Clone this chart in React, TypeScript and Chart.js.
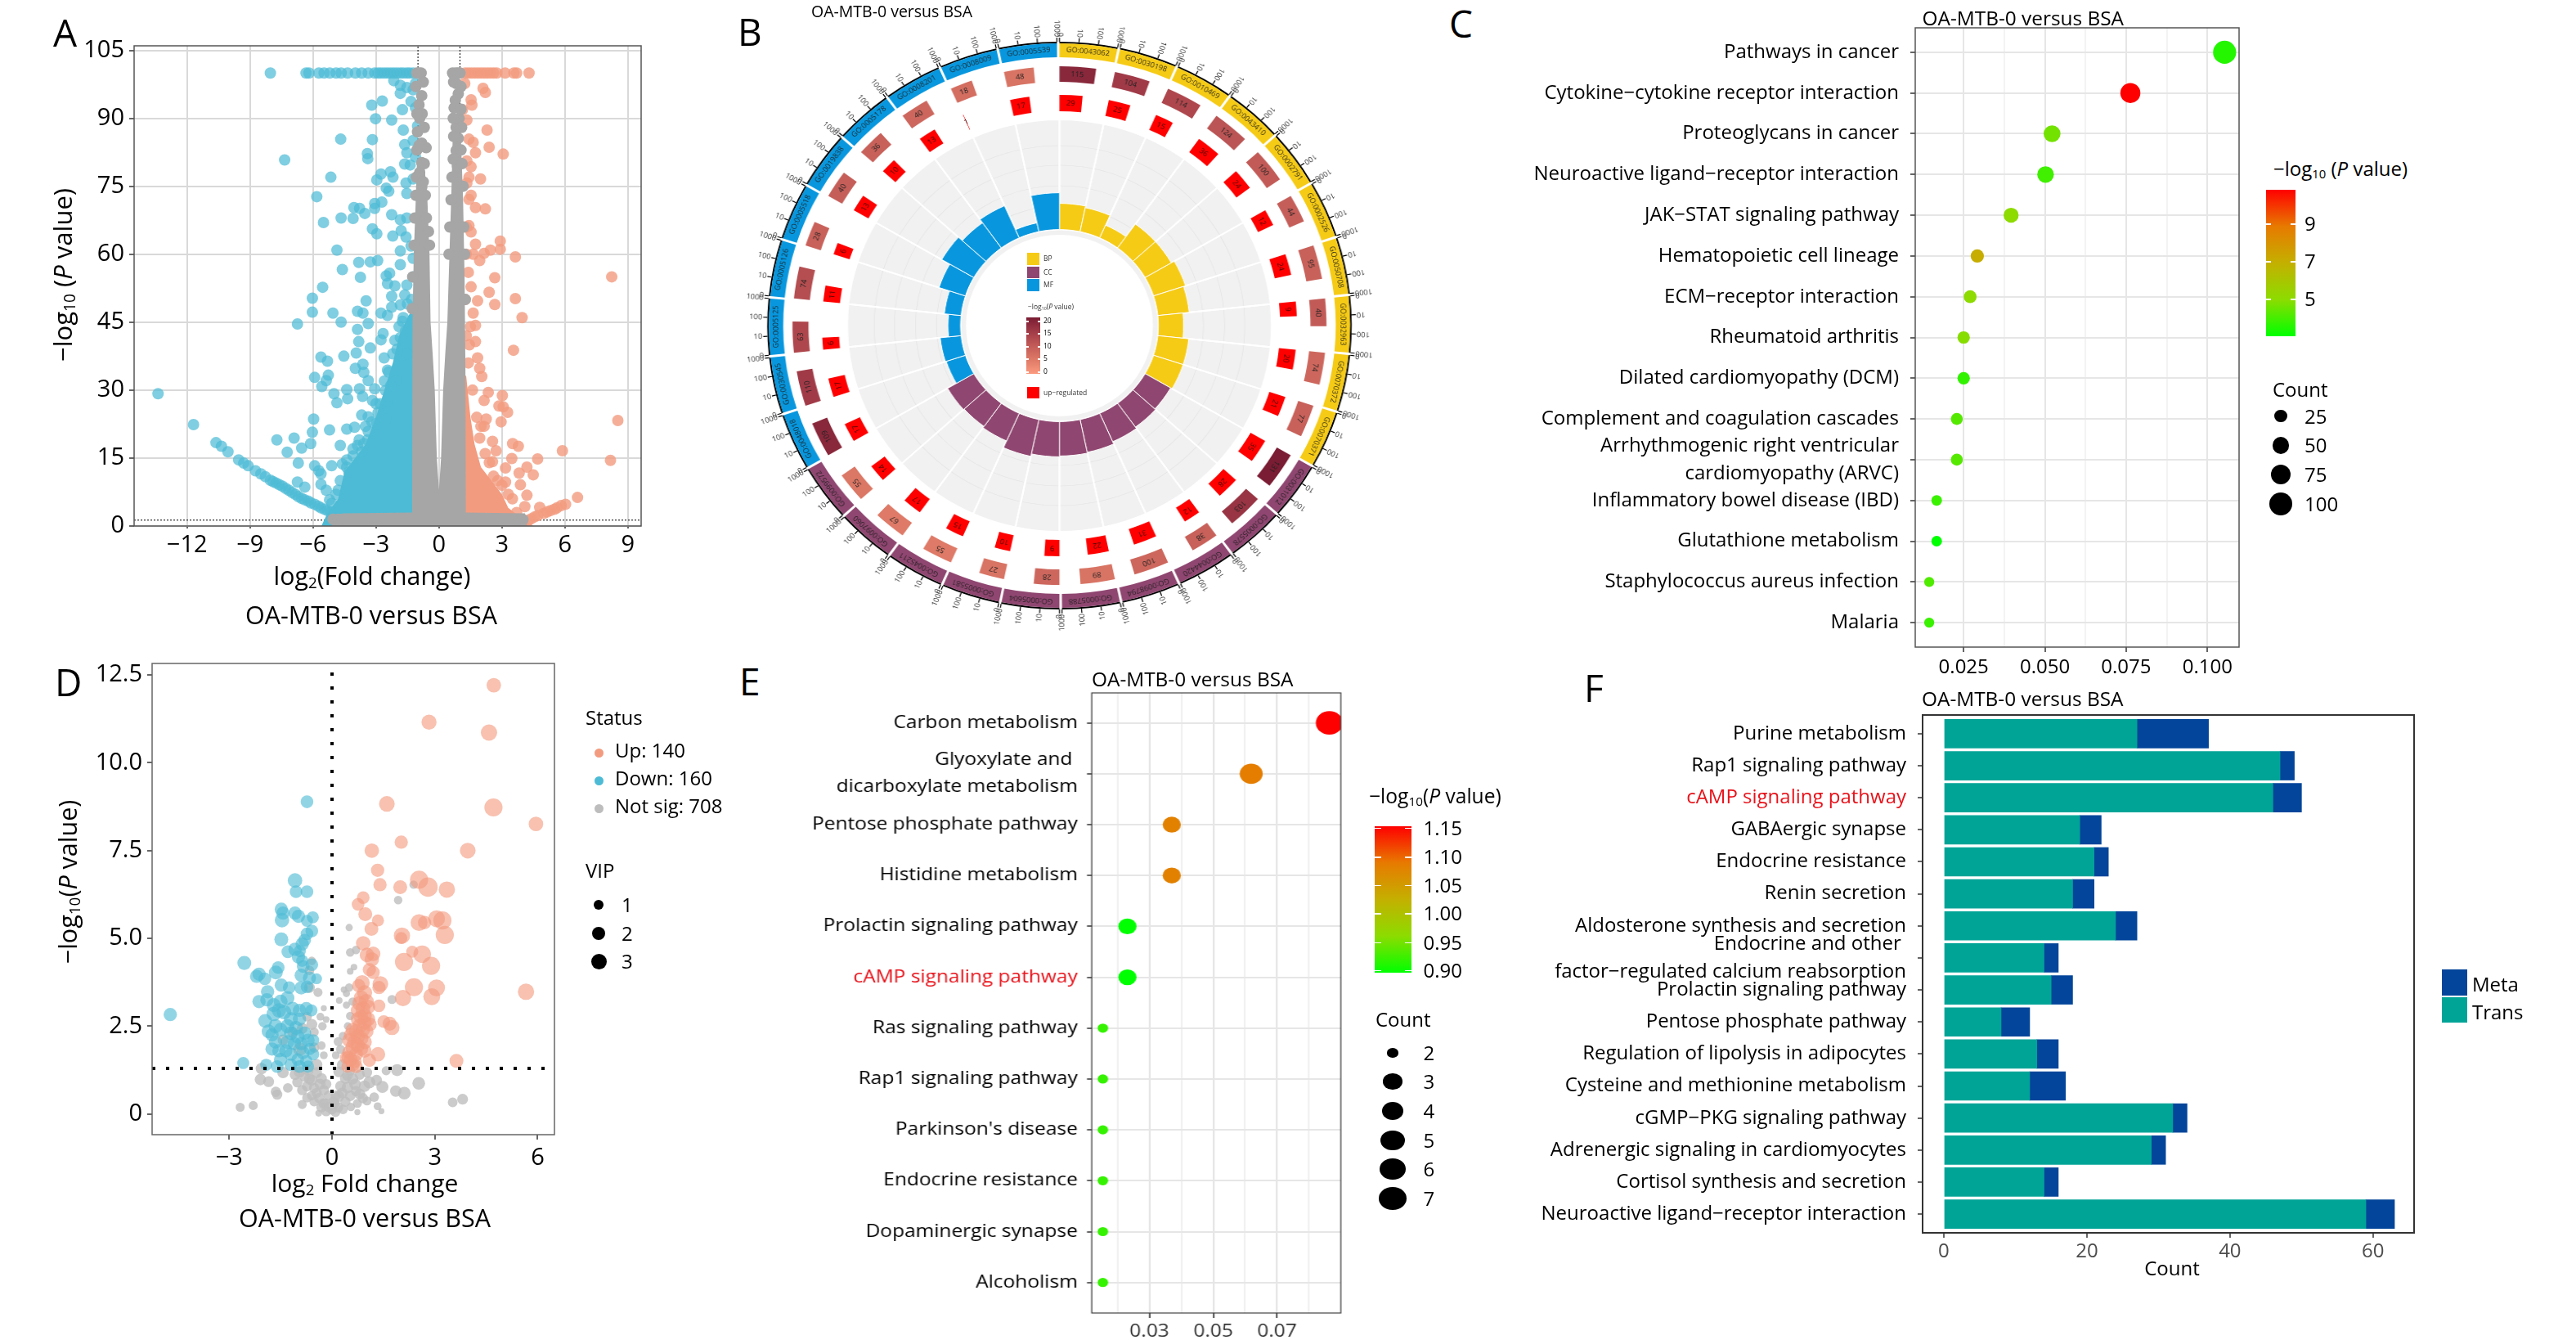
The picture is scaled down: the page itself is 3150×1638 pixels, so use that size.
import React, { useEffect, useRef } from 'react';
import { Chart, registerables } from 'chart.js';
Chart.register(...registerables);

const FONT = '"Open Sans", sans-serif';
Chart.defaults.font.family = FONT;

const pairs = (a: number[]) => { const o: any[] = []; for (let i = 0; i < a.length; i += 2) o.push({ x: a[i], y: a[i + 1] }); return o; };
const triples = (a: number[]) => { const o: any[] = []; for (let i = 0; i < a.length; i += 3) o.push({ x: a[i], y: a[i + 1], r: a[i + 2] * 3.7 }); return o; };

/* ---------- Panel A ---------- */
const aXTicks = [-12, -9, -6, -3, 0, 3, 6, 9];
const aYTicks = [0, 15, 30, 45, 60, 75, 90, 105];
const aPThreshold = 1.3;
const aFcThreshold = 1;
const aBlue = [-8.03,100,-6.33,100,-6.19,100,-5.72,100,-5.47,100,-5.2,100,-4.9,100,-4.66,100,-4.35,100,-3.98,100,-3.68,100,-3.37,100,-3.06,100,-2.9,100,-2.76,100,-2.6,100,-2.45,100,-2.3,100,-2.15,100,-2,100,-1.84,100,-1.7,100,-1.53,100,-1.4,100,-1.23,100,
-1.12,97.7,-1.84,97.3,-2.15,98.3,-1.53,96.8,-1.84,95.5,-1.23,96.3,-2.7,93.8,-3.2,92.9,-1.33,93.7,-1.74,91.9,-3.02,89.9,-2.25,89.6,-1.12,92.3,-1.7,87.4,-1.02,88.3,-3.17,85.3,-4.68,85.4,-1.63,84.2,-1.23,85.1,-1.53,82.4,-1.12,81.5,-3.41,82.2,-3.39,81.1,-7.35,80.8,-1.63,79.9,-1.37,79.7,-5.15,77,-2.76,77.7,-2.31,78.2,-2.96,76.4,-2.19,77,-1.57,75.7,-1.23,76.6,-2.51,74.6,-2.39,73.9,-5.82,72.7,-1.53,73.4,-3.06,71.2,-2.72,71.5,-4.05,70.3,-3.78,70.1,-3.06,70.1,-3.53,69,-4.09,67.9,-4.66,68,-2.25,68.7,-1.84,67.6,-1.53,68,-5.5,67,-3.17,65.6,-2.96,64.5,-1.8,65.2,-2.2,64,-1.57,63.8,-4.86,60.9,-1.84,60.7,-1.33,61.8,-3.82,58.2,-3.27,58.3,-2.92,58.6,-1.84,57.7,-1.23,59.1,-4.6,56.6,-2.51,55.2,-2.35,55.8,-1.23,55,-3.74,54.9,-2.45,53.5,-2.1,53,-5.54,52.7,-1.53,53.2,-6.03,50.3,-3.47,49.7,-2.25,50.7,-1.63,51,-6.03,47.2,-5.05,47,-3.88,47.4,-3.62,47,-2.25,48.3,-2.76,47,-1.84,48.8,-6.74,44.6,-4.66,45,-3.37,44.7,-3.88,43.4,-2.45,46.5,-2.66,42.5,-1.74,45.2,-1.33,44.3,-3.82,40.7,-3.27,39.3,-2.76,41.1,-1.84,41.6,-3.94,38.2,-4.53,37.5,-5.62,37.3,-5.31,36.4,-2.61,37.1,-3.98,34.8,-3.62,35.7,-3.58,33.9,-5.92,32.8,-5.27,33.3,-5.37,32.1,-5.58,30.8,-3.37,32.1,-2.45,34.4,-4.39,30.1,-5,29.2,-3.78,30.3,-3.06,30.3,-4.86,27.2,-4.35,28.1,-3.64,28.6,-3.17,27.7,-3.68,24.5,-3.37,24.1,-5.97,23.6,-6.03,20.7,-5.21,21.2,-4.39,21.4,-4.02,21.8,
-13.38,29.2,-11.69,22.4,-10.62,18.4,-10.36,17.6,-10.05,16.4,-9.54,14.6,-9.3,13.9,-9.09,13.3,-8.74,12.2,-8.48,11.5,-8.27,10.9,-8.03,10.1,-7.9,9.8,-7.76,9.5,-7.6,9.1,-7.46,8.8,-7.3,8.3,-7.15,7.9,-7,7.4,-6.84,7,-6.7,6.5,-6.54,6.1,-6.4,5.8,-6.23,5.5,-6.1,5.1,-5.92,4.8,-5.75,4.4,-5.62,4,-5.45,3.7,-5.31,3.4,-5.15,3.1,-5,2.8,
-7.72,19,-6.9,19.4,-7.23,16.3,-6.54,17.2,-6.11,18.2,-6.7,13.9,-5.92,13.3,-5.72,12.2,-5.62,11.5,-4.7,17.8,-5.11,13.3,-6.74,9.7,-6.39,8.6,-5.62,9.2,-5.37,7.9,-4.8,7.9,-5.21,5.8,-4.09,15.5,-4.39,14.6,-4.6,13.7,-4.29,11.9,-3.58,18.2,-3.88,17.8,-3.68,16.4,-3.37,20.9,-2.96,22.7,-2.55,23.6,-2.45,26.3,-1.94,27.2,-2.55,29.9,-2.04,32.1,-1.74,35.3,-1.53,38,
-4.7,10,-4.4,13,-4.1,17,-3.8,19,-3.5,22,-3.2,23,-3,27,-2.8,27,-2.6,32,-2.4,34,-2.2,38,-2.1,41,-1.9,44,-1.7,46,-1.5,49,-1.3,50,-4.9,7,-5.1,5,-3.4,19,-2.9,25,-2.3,31,-2,39,-1.6,43];
const aOrange = [1.25,100,1.4,100,1.55,100,1.7,100,1.85,100,2,100,2.15,100,2.3,100,2.45,100,2.6,100,2.75,100,3.15,100,3.57,100,3.7,100,4.29,100,
1.23,97.7,2.1,96.6,2.21,95.7,1.53,94.1,1.57,92.9,1.12,91.9,1.33,89.6,2.29,87.4,1.43,85.4,1.63,84.7,2.39,83.6,1.74,82.4,3.06,82.1,1.33,80.6,1.53,79.3,1.98,76.6,1.43,77,1.33,75.7,1.53,73,1.43,72.1,1.74,70.3,2.21,70,1.43,66.3,1.53,64.9,2.92,62.9,1.74,62.2,1.63,60,2.92,61.1,2.45,60.9,2.15,60.2,1.94,58.6,3.64,59.4,2.66,54.8,8.23,55,1.53,52.8,2.39,51.6,3.64,50.2,2.66,48.9,1.84,49.7,1.63,47,3.96,46,1.74,44.3,1.74,40.7,3.55,38.8,1.84,37.1,1.94,34.8,2.04,33,2.35,29.5,3.02,28.8,2.15,27.7,2.86,26.5,3.06,26.3,3.27,25.1,2.25,23.6,2.96,23,8.52,23.3,2.15,22,1.94,19.4,2.55,18.7,3.51,18.2,3.78,17.6,2.72,16.6,5.88,16.6,3.47,14.9,4.7,14.8,8.17,14.5,2.55,14.2,3.17,12.8,4.19,13,4.49,11.3,3.82,11.7,3.88,9.1,3.17,9.7,4.19,6.8,6.6,6.3,4.09,4.3,4.8,4.1,6.03,4.8,5.82,4.5,5.62,4,5.31,3.4,5,2.8,4.7,2.3,4.39,1.6,
1.4,36,1.6,30,1.8,24,2,22,2.2,16,2.4,14,2.6,11,2.8,10,3,9,3.3,7,3.5,6,3.7,3,1.3,42,1.5,44,1.4,56,1.3,60,1.3,66,1.25,50,1.45,40,5.5,3.7,5.15,3.1,4.55,2,4.25,1.2];
const aGray = [-1.05,100,-0.95,100,-0.85,100,0.65,100,0.8,100,0.9,100,1,100,
-0.82,95,-0.92,90,-1.02,87,-0.82,84.5,-0.61,83.5,-0.82,80.2,-0.92,78,-0.82,74.8,0.82,97.7,0.92,95.4,0.72,92.3,0.96,90,0.82,88,0.92,85.6,0.82,82.9,0.88,79.5,-5.05,1.5,-4.8,1.5,-4.6,1.5,4,1.4,3.8,1.5,
-1.1,97,-0.75,98,-0.95,93,-0.8,91,-1.05,91,-0.7,88,-0.95,84,-1.05,83,-0.7,80,-1.08,77,-0.75,76,-1.1,73,-0.65,73,-1.15,68,-0.6,68,-0.5,65,-1.18,62,-0.45,62,-1.25,55,-1.27,48,
0.7,98,1.05,97,0.78,94,1.05,92,0.68,90,1.08,88,0.7,86,1.05,83,0.68,81,1.1,80,0.62,77,1.15,75,0.58,72,1.18,66,0.52,66,1.22,60,0.48,60,1.25,50];
const aBlueMass = [-5.6,0,-5.3,3,-4.8,6,-4.5,12,-4,15,-3.5,18,-3,24,-2.6,30,-2.2,36,-1.9,42,-1.5,46,-1,50,-1,0];
const aOrangeMass = [1,0,1,35,1.3,33,1.5,24,1.7,18,2,13,2.5,10,3,7,3.3,4,4,1.5,4.5,0];
const aGrayMass = [-5.1,0,-5,2.5,-4.5,2.8,-1.28,3,-1.26,45,-1.2,60,-1.12,70,-1.05,80,-0.7,80,-0.55,72,-0.45,60,-0.4,45,-0.3,38,-0.2,30,-0.1,15,0,8,0.1,15,0.2,30,0.3,38,0.4,45,0.5,60,0.6,75,0.65,85,1.05,85,1.15,72,1.22,55,1.26,35,1.28,3,4.1,2.8,4.2,0];

/* ---------- Panel B ---------- */
const goIds = ['GO:0043062','GO:0030198','GO:0010469','GO:0043410','GO:0002791','GO:0002526','GO:0050708','GO:0032963','GO:0070372','GO:0070371','GO:0031012','GO:0005578','GO:0044420','GO:0098794','GO:0005788','GO:0005604','GO:0005581','GO:0045211','GO:0097060','GO:0099572','GO:0048018','GO:0030545','GO:0005125','GO:0005126','GO:0005518','GO:0019838','GO:0005178','GO:0008201','GO:0008009','GO:0005539'];
const goGroupColors = ['#f6cb16', '#8f4670', '#0897de'];
const goCounts = [115,104,114,124,100,44,95,40,74,77,131,103,38,100,89,28,27,55,67,55,109,110,63,74,28,40,36,40,18,48];
const goLogP = [18,15,13,11,10,9.5,9,10,8,9,20,16,9,8,6,8,6,5,5,5.5,18,15,13,12,9,9.5,9,8,7,6];
const goUp = [29,25,15,36,24,12,24,9,20,21,35,28,12,31,22,9,10,15,17,14,17,17,6,11,6,13,10,13,1,17];
const goBars = [1.28,1.2,0.68,1.44,1.44,1.6,1.5,1.2,1.48,1.48,1.4,1.44,1.52,1.64,1.68,1.72,1.84,1.48,1.4,1.44,0.96,1,0.6,0.8,1.32,1.76,1.52,1.72,0.44,1.8];
const goAxisLabels = ['0', '10', '100', '1000'];
const goGridRings = [146, 171, 196, 220];

/* ---------- Panel C ---------- */
const cTerms: any[] = ['Pathways in cancer','Cytokine−cytokine receptor interaction','Proteoglycans in cancer','Neuroactive ligand−receptor interaction','JAK−STAT signaling pathway','Hematopoietic cell lineage','ECM−receptor interaction','Rheumatoid arthritis','Dilated cardiomyopathy (DCM)','Complement and coagulation cascades',['Arrhythmogenic right ventricular','cardiomyopathy (ARVC)'],'Inflammatory bowel disease (IBD)','Glutathione metabolism','Staphylococcus aureus infection','Malaria'];
const cRatio = [0.1053,0.0763,0.0522,0.0502,0.0396,0.0292,0.027,0.025,0.025,0.0229,0.0229,0.0167,0.0167,0.0144,0.0144];
const cCount = [102,74,50,48,38,28,26,24,24,22,22,16,16,14,14];
const cLogP = [3.5,10.8,4.6,3.9,5,7,5,4.9,3.7,4.2,4.2,3.8,3,4.1,3.8];
const cXTicks = [0.025,0.0375,0.05,0.0625,0.075,0.0875,0.1];
const cXLabeled = [0.025,0.05,0.075,0.1];

/* ---------- Panel D ---------- */
const dXTicks = [-3, 0, 3, 6];
const dYTicks = [0, 2.5, 5, 7.5, 10, 12.5];
const dUp = [4.72,12.21,2.4,2.83,11.16,2.5,4.58,10.86,2.7,1.6,8.83,2.6,4.71,8.73,3,5.95,8.26,2.4,2.02,7.74,2.2,3.96,7.5,2.6,1.16,7.5,2.4,1.33,6.94,2.2,1.4,6.53,2.2,2.54,6.67,3,2.8,6.46,3.2,1.99,6.46,2.3,3.35,6.39,2.7,0.91,6.16,2.1,0.76,5.97,2.1,0.97,5.69,2.3,1.34,5.51,2,1.15,5.27,2.3,2.54,5.45,2.8,2.7,5.45,2.2,3.05,5.56,2.8,3.22,5.51,3,2.04,5.08,2.7,2.02,5.01,2,3.29,5.1,3,0.91,4.86,2.4,2.34,4.62,2,2.63,4.55,2.9,2.1,4.33,3,2.89,4.22,3,1.02,4.53,2.4,1.2,4.56,2.4,1.16,4.4,2.4,1.09,4.11,2.2,1.2,4.03,2.2,0.88,3.74,2.5,0.78,3.65,2.2,1.41,3.7,2.6,1.37,3.6,2.2,2.39,3.61,3,3.05,3.59,2.8,2.91,3.34,2.8,2.07,3.3,2.7,5.66,3.48,2.7,
0.95,3.45,2.5,0.85,3.3,2.5,0.8,3.15,2.4,1,3.2,2.5,0.9,3,2.5,1.05,3.05,2.4,0.75,2.95,2.3,0.95,2.8,2.4,0.85,2.75,2.4,0.75,2.7,2.3,1.05,2.7,2.4,0.95,2.6,2.4,1.1,2.55,2.3,0.8,2.5,2.4,0.9,2.4,2.4,1,2.35,2.4,0.7,2.35,2.4,0.6,2.4,2.3,0.55,2.25,2.3,0.75,2.2,2.4,0.85,2.15,2.4,0.95,2.05,2.4,0.65,2.05,2.4,0.5,2.1,2.3,0.6,1.9,2.4,0.75,1.95,2.4,0.85,1.85,2.3,0.95,1.8,2.3,0.5,1.75,2.3,0.7,1.7,2.3,0.55,1.55,2.3,0.4,1.6,2,0.6,1.4,2.3,0.7,1.35,2.2,0.45,1.35,2,1.37,3.08,2.1,1.51,2.63,2.1,1.68,2.57,2.3,1.75,2.46,2.5,1.34,1.7,2.4,1.09,1.53,2.2,0.67,1.5,2.2,0.46,1.62,2.1,3.63,1.51,2.3];
const dDown = [-0.73,8.89,2.1,-1.08,6.65,2.4,-1.05,6.33,2.1,-0.73,6.33,2.1,-1.48,5.83,2.2,-1.43,5.72,2.2,-1.46,5.52,2.4,-1.08,5.72,2.2,-0.98,5.63,2.2,-0.56,5.6,2,-0.73,5.5,2,-0.59,5.21,2.1,-0.73,5.13,2.1,-1.48,4.97,2.3,-0.8,4.95,2.1,-0.87,4.84,2.2,-1.08,4.69,2.2,-1.29,4.62,2.1,-0.94,4.64,2,-0.98,4.47,2.2,-0.87,4.36,2,-0.59,4.25,2.1,-0.84,4.2,2.1,-2.56,4.3,2.3,-1.57,4.17,2.1,-1.64,4.03,2.3,-2.13,3.98,2.2,-2.2,3.92,2.2,-1.96,3.85,2.1,-0.9,3.95,2.2,-0.66,3.87,2.2,-0.45,3.85,1.8,-1.48,3.67,2.2,-1.25,3.6,2.1,-0.9,3.59,2.2,-0.73,3.62,2.1,-1.88,3.48,2.2,-4.72,2.83,2.2,-2.59,1.45,2,-1.92,1.4,2,
-2.13,3.2,2.2,-1.9,3.25,2.2,-1.7,3.1,2.3,-1.5,3.2,2.3,-1.3,3.3,2.3,-1.55,2.95,2.4,-1.7,2.85,2.4,-1.4,2.9,2.4,-1.15,3,2.3,-0.95,2.95,2.2,-0.75,3,2.2,-0.6,2.95,2,-1.2,2.7,2.3,-0.95,2.7,2.2,-1.95,2.65,2.3,-1.65,2.5,2.3,-1.85,2.35,2.3,-1.75,2.25,2.2,-1.5,2.4,2.3,-1.3,2.5,2.3,-1.2,2.3,2.3,-1.05,2.45,2.3,-1,2.2,2.3,-0.8,2.3,2.2,-0.7,2.1,2.2,-0.55,2.1,2,-1.65,2.05,2.2,-1.3,2.05,2.3,-1.1,2,2.2,-0.9,2,2.2,-1.75,1.85,2.2,-1.55,1.8,2.2,-1.35,1.8,2.2,-0.65,1.85,2,-1.2,1.7,2.2,-0.85,1.75,2.2,-0.55,1.7,2,-1.5,1.55,2.2,-1,1.55,2.1,-0.75,1.5,2.1,-1.6,1.35,2.1,-1.2,1.4,2.1,-0.95,1.35,2.1,-0.7,1.35,2];
const dNotSig = [2.38,6.53,1.4,1.93,6.09,1.4,0.5,5.31,1.2,0.53,4.6,1.4,0.7,4.67,1.4,0.64,4.18,1.1,0.53,4.06,1.1,1.75,3.26,1.5,0.35,3.54,1.1,0.42,3.43,1.2,0.21,3.23,1.1,0.5,3.6,1.4,0.42,3.1,1.2,0.6,3.2,1.4,0.53,2.79,1.4,0.46,2.5,1.3,0.32,2.22,1.4,0.18,2.06,1.5,0.25,1.84,1.5,0.11,1.67,1.3,-0.59,4.36,1.4,-0.66,4.09,1.6,-0.66,3.6,1.8,-0.41,3.46,1.5,-0.24,3.01,1,-0.34,2.77,1.3,-0.17,2.69,1.1,-0.28,2.5,1.4,-0.52,2.33,1.5,-0.73,2.77,1.6,-0.59,2.55,1.8,-0.87,2.44,1.8,-1.15,2.33,1.8,-0.94,1.84,2.2,-0.52,1.89,1.7,-0.31,1.95,1.4,-0.24,1.67,1.3,-1.43,2.11,1.8,-2.06,1.29,1.9,-1.43,1.18,1.9,
1.58,1.23,1.5,1.9,1.25,2,1.02,1.18,1.7,0.81,1.12,1.7,0.53,1.23,1.7,1.09,0.9,2,1.3,0.96,1.8,1.47,0.77,2,2.53,0.87,2.1,1.86,0.65,1.9,2.11,0.59,2.1,0.95,0.79,1.9,0.67,0.85,1.9,0.39,1.01,1.8,0.25,0.79,1.8,0.11,0.52,1.7,0.81,0.57,1.8,0.53,0.52,1.8,1.23,0.48,1.6,1.02,0.37,1.5,0.74,0.3,1.5,0.39,0.35,1.7,0.18,0.19,1.7,0.32,0.13,1.6,1.33,0.22,1.3,1.44,0.08,1,0.74,0.05,1,3.81,0.42,1.8,3.52,0.33,1.6,0,0.13,1.7,-0.17,0.08,1.7,-0.31,0.19,1.7,-0.39,0.02,1.1,0.04,0.35,1.7,-0.1,0.52,1.7,-0.24,0.68,1.7,-0.38,0.46,1.7,-0.59,0.52,1.6,-0.52,0.74,1.7,-0.73,0.79,1.7,-0.87,0.68,1.7,-0.59,0.96,1.8,-0.8,1.07,1.8,-1.08,1.12,1.8,-0.45,1.18,1.8,-0.31,1.01,1.8,-0.17,0.85,1.7,-1.01,0.9,1.7,-1.29,0.74,1.6,-1.64,0.63,1.7,-1.6,0.55,1.7,-1.85,0.92,1.8,-2.09,0.98,1.9,-2.3,0.24,1.5,-2.68,0.19,1.5,-0.87,0.27,1.5,-0.73,0.46,1.6,-0.52,0.35,1.6,-0.45,0.6,1.7,-0.66,1,1.8,-0.95,1.2,1.9,-0.35,0.85,1.8,-0.2,0.3,1.7,0.08,0.3,1.7,0.2,0.5,1.8,0.3,0.6,1.8,0.45,0.75,1.9,0.6,1,1.9,0.7,0.65,1.7,0.9,0.45,1.7,0.55,0.2,1.4,0.1,0.05,1.6,-0.1,0.2,1.7,-0.25,0.3,1.7,-0.45,1.4,1.9,-0.7,1.25,1.8,0.2,1.2,1.8,0.3,1.4,1.8,0.45,1.1,1.8];
const dFcLine = 0;
const dPLine = 1.3;

/* ---------- Panel E ---------- */
const eTerms: any[] = ['Carbon metabolism',['Glyoxylate and ','dicarboxylate metabolism'],'Pentose phosphate pathway','Histidine metabolism','Prolactin signaling pathway','cAMP signaling pathway','Ras signaling pathway','Rap1 signaling pathway',"Parkinson's disease",'Endocrine resistance','Dopaminergic synapse','Alcoholism'];
const eRatio = [0.0864,0.0619,0.037,0.037,0.0231,0.0231,0.0154,0.0154,0.0154,0.0154,0.0154,0.0154];
const eCount = [7,5,3,3,3,3,2,2,2,2,2,2];
const eLogP = [1.16,1.09,1.085,1.085,0.895,0.895,0.92,0.92,0.92,0.92,0.92,0.92];
const eXTicks = [0.02,0.03,0.04,0.05,0.06,0.07,0.08];
const eXLabeled = [0.03,0.05,0.07];

/* ---------- Panel F ---------- */
const fTerms: any[] = ['Purine metabolism','Rap1 signaling pathway','cAMP signaling pathway','GABAergic synapse','Endocrine resistance','Renin secretion','Aldosterone synthesis and secretion',['Endocrine and other ','factor−regulated calcium reabsorption'],'Prolactin signaling pathway','Pentose phosphate pathway','Regulation of lipolysis in adipocytes','Cysteine and methionine metabolism','cGMP−PKG signaling pathway','Adrenergic signaling in cardiomyocytes','Cortisol synthesis and secretion','Neuroactive ligand−receptor interaction'];
const fTrans = [27,47,46,19,21,18,24,14,15,8,13,12,32,29,14,59];
const fMeta = [10,2,4,3,2,3,3,2,3,4,3,5,2,2,2,4];
const fXTicks = [0, 20, 40, 60];

/* ---------- helpers ---------- */
const hex = (c: string) => [1, 3, 5].map(i => parseInt(c.slice(i, i + 2), 16));
const ramp = (stops: string[], t: number) => {
  const p = Math.min(0.9999, Math.max(0, t)) * (stops.length - 1);
  const i = Math.floor(p); const f = p - i; const a = hex(stops[i]); const b = hex(stops[i + 1]);
  return `rgb(${a.map((v, k) => Math.round(v + (b[k] - v) * f)).join(',')})`;
};
const GREEN_RED = ['#00ff00', '#8cdc00', '#c4b000', '#e77a00', '#ff0000'];
const PVAL_REDS = ['#fb9a7f', '#de7a67', '#c25b57', '#a03a47', '#7a1c33'];

const framePlugin = {
  id: 'frame',
  afterDatasetsDraw(chart: any, _a: any, o: any) {
    const { ctx, chartArea: c } = chart;
    ctx.save(); ctx.strokeStyle = o.color || '#555'; ctx.lineWidth = o.width || 1.5;
    ctx.strokeRect(c.left, c.top, c.right - c.left, c.bottom - c.top); ctx.restore();
  },
};

const base = (g: any, scales: any, frame: any) => ({
  animation: false, responsive: false, maintainAspectRatio: false, devicePixelRatio: 1, events: [],
  layout: { autoPadding: false, padding: { top: g.mt, right: g.mr, left: 0, bottom: 0 } },
  plugins: { legend: { display: false }, tooltip: { enabled: false }, frame },
  scales,
});

const axis = (side: 'x' | 'y', g: any, o: any) => ({
  type: 'linear', bounds: 'data', offset: false, min: o.min, max: o.max, reverse: !!o.reverse, stacked: !!o.stacked,
  afterBuildTicks: (s: any) => { s.ticks = o.ticks.map((v: number) => ({ value: v })); },
  afterFit: (s: any) => { if (side === 'x') s.height = g.mb; else s.width = g.ml; },
  ticks: { callback: o.fmt, font: { size: o.size, lineHeight: o.lh || 1.4 }, color: o.color || '#000', padding: o.pad, autoSkip: false, maxRotation: 0, minRotation: 0 },
  grid: { display: o.grid !== false, offset: false, color: o.gridColor || '#e6e6e6', lineWidth: o.gridWidth || 2, drawTicks: true, tickLength: o.tl === undefined ? 6 : o.tl, tickColor: o.tickColor || '#333', tickWidth: 1.5 },
  border: { display: false },
});

function ChartPanel({ box, m, sx = 1, make }: any) {
  const [ml, mt, mr, mb] = m;
  const ref = useRef<HTMLCanvasElement>(null);
  const W = (box.R - box.L + ml + mr) / sx;
  const H = box.B - box.T + mt + mb;
  useEffect(() => {
    const c = new Chart(ref.current as any, make({ ml: ml / sx, mt, mr: mr / sx, mb }));
    return () => c.destroy();
  }, []);
  return <canvas ref={ref} width={Math.round(W)} height={Math.round(H)}
    style={{ position: 'absolute', left: box.L - ml, top: box.T - mt, transformOrigin: '0 0', transform: `scaleX(${sx})` }} />;
}

const Sub = ({ children }: any) => <sub style={{ fontSize: '0.62em', verticalAlign: '-0.22em', lineHeight: 0 }}>{children}</sub>;

function T({ x, y, size = 24, anchor = 'left', rot, color = '#000', children, font }: any) {
  const tx = anchor === 'center' ? '-50%' : anchor === 'right' ? '-100%' : '0';
  return <div style={{
    position: 'absolute', left: x, top: y, fontSize: size, lineHeight: 1, whiteSpace: 'pre', color, fontFamily: font || FONT,
    transform: `translate(${tx},-50%)${rot ? ` rotate(${rot}deg)` : ''}`,
  }}>{children}</div>;
}
const Dot = ({ x, y, r, color = '#000', rx }: any) => <div style={{ position: 'absolute', left: x - (rx || r), top: y - r, width: 2 * (rx || r), height: 2 * r, borderRadius: '50%', background: color }} />;
const Rect = ({ x, y, w, h, color }: any) => <div style={{ position: 'absolute', left: x, top: y, width: w, height: h, background: color }} />;

function ColorBar({ x, y, w, h, stops, ticks, labelX, size }: any) {
  return <>
    <div style={{ position: 'absolute', left: x, top: y, width: w, height: h, background: `linear-gradient(to top, ${stops.join(',')})` }} />
    {ticks.map(([ty, label]: any) => <React.Fragment key={label}>
      <Rect x={x} y={ty} w={w * 0.18} h={1.5} color="#fff" />
      <Rect x={x + w * 0.82} y={ty} w={w * 0.18} h={1.5} color="#fff" />
      <T x={labelX} y={ty} size={size}>{label}</T>
    </React.Fragment>)}
  </>;
}

/* ---------- chart configs ---------- */
const minusFmt = (v: number) => String(v).replace('-', '−');

const makeA = (g: any) => ({
  type: 'scatter',
  data: {
    datasets: [
      { data: pairs(aGray), pointRadius: 7, pointBackgroundColor: '#a6a6a6', pointBorderWidth: 0 },
      { data: pairs(aGrayMass), showLine: true, fill: 'origin', backgroundColor: '#a6a6a6', borderWidth: 0, pointRadius: 0, tension: 0 },
      { data: pairs(aOrange), pointRadius: 7, pointBackgroundColor: 'rgba(243,155,127,0.8)', pointBorderWidth: 0 },
      { data: pairs(aOrangeMass), showLine: true, fill: 'origin', backgroundColor: '#f39b7f', borderWidth: 0, pointRadius: 0, tension: 0 },
      { data: pairs(aBlue), pointRadius: 7, pointBackgroundColor: 'rgba(77,187,213,0.72)', pointBorderWidth: 0 },
      { data: pairs(aBlueMass), showLine: true, fill: 'origin', backgroundColor: '#4dbbd5', borderWidth: 0, pointRadius: 0, tension: 0 },
      { data: [{ x: -14.52, y: aPThreshold }, { x: 9.63, y: aPThreshold }], showLine: true, borderColor: '#000', borderWidth: 1, borderDash: [2, 2], pointRadius: 0 },
      { data: [{ x: -aFcThreshold, y: 0 }, { x: -aFcThreshold, y: 106 }], showLine: true, borderColor: '#000', borderWidth: 1, borderDash: [2, 2], pointRadius: 0 },
      { data: [{ x: aFcThreshold, y: 0 }, { x: aFcThreshold, y: 106 }], showLine: true, borderColor: '#000', borderWidth: 1, borderDash: [2, 2], pointRadius: 0 },
    ],
  },
  options: base(g, {
    x: axis('x', g, { min: -14.52, max: 9.63, ticks: aXTicks, fmt: minusFmt, size: 29, pad: 0, gridColor: '#d9d9d9', tl: 3 }),
    y: axis('y', g, { min: 0, max: 106, ticks: aYTicks, fmt: minusFmt, size: 29, pad: 6, gridColor: '#d9d9d9' }),
  }, { color: '#555', width: 1.5 }),
  plugins: [framePlugin],
});

const cRadius = (n: number) => 1.5 + 1.25 * Math.sqrt(n);
const makeC = (g: any) => ({
  type: 'bubble',
  data: { datasets: [{
    data: cRatio.map((x, i) => ({ x, y: i + 1, r: cRadius(cCount[i]) })),
    backgroundColor: cLogP.map(v => ramp(GREEN_RED, (v - 3) / 7.8)), borderWidth: 0,
  }] },
  options: base(g, {
    x: { ...axis('x', g, { min: 0.0101, max: 0.10975, ticks: cXTicks, fmt: (v: number) => cXLabeled.includes(v) ? v.toFixed(3) : '', size: 24, pad: 2 }),
      grid: { color: (c: any) => c.tick && cXLabeled.includes(c.tick.value) ? '#e6e6e6' : '#f3f3f3', lineWidth: 2, tickLength: 6, tickColor: (c: any) => c.tick && cXLabeled.includes(c.tick.value) ? '#333' : 'rgba(0,0,0,0)', tickWidth: 1.5 } },
    y: axis('y', g, { min: 0.4, max: 15.6, reverse: true, ticks: cTerms.map((_, i) => i + 1), fmt: (v: number) => cTerms[v - 1], size: 24, pad: 14 }),
  }, { color: '#555', width: 1.5 }),
  plugins: [framePlugin],
});

const makeD = (g: any) => ({
  type: 'bubble',
  data: { datasets: [
    { type: 'scatter', data: [{ x: dFcLine, y: -0.59 }, { x: dFcLine, y: 12.83 }], showLine: true, borderColor: '#000', borderWidth: 4, borderDash: [4, 13], pointRadius: 0 },
    { type: 'scatter', data: [{ x: -5.25, y: dPLine }, { x: 6.49, y: dPLine }], showLine: true, borderColor: '#000', borderWidth: 4, borderDash: [4, 13], pointRadius: 0 },
    { data: triples(dUp), backgroundColor: 'rgba(243,155,127,0.62)', borderWidth: 0 },
    { data: triples(dDown), backgroundColor: 'rgba(77,187,213,0.62)', borderWidth: 0 },
    { data: triples(dNotSig), backgroundColor: 'rgba(190,190,190,0.8)', borderWidth: 0 },
  ] },
  options: base(g, {
    x: axis('x', g, { min: -5.25, max: 6.49, ticks: dXTicks, fmt: minusFmt, size: 29, pad: 2, gridColor: 'rgba(0,0,0,0)', tickColor: '#333' }),
    y: axis('y', g, { min: -0.59, max: 12.83, ticks: dYTicks, fmt: (v: number) => v === 0 ? '0' : v.toFixed(1), size: 29, pad: 6, gridColor: 'rgba(0,0,0,0)' }),
  }, { color: '#666', width: 1.5 }),
  plugins: [framePlugin],
});

const eRadiusByCount: any = { 2: 5.6, 3: 9.7, 4: 11, 5: 12.3, 6: 13.4, 7: 14.4 };
const makeE = (g: any) => ({
  type: 'bubble',
  data: { datasets: [{
    data: eRatio.map((x, i) => ({ x, y: i + 1, r: eRadiusByCount[eCount[i]] })),
    backgroundColor: eLogP.map(v => ramp(GREEN_RED, (v - 0.895) / 0.265)), borderWidth: 0, clip: 0,
  }] },
  options: base(g, {
    x: { ...axis('x', g, { min: 0.01192, max: 0.09, ticks: eXTicks, fmt: (v: number) => eXLabeled.includes(v) ? v.toFixed(2) : '', size: 21.3, pad: 2, color: '#333' }),
      grid: { color: (c: any) => c.tick && eXLabeled.includes(c.tick.value) ? '#e6e6e6' : '#f1f1f1', lineWidth: 2, tickLength: 6, tickColor: (c: any) => c.tick && eXLabeled.includes(c.tick.value) ? '#333' : 'rgba(0,0,0,0)', tickWidth: 1.5 } },
    y: (() => { const a: any = axis('y', g, { min: 0.41, max: 12.6, reverse: true, ticks: eTerms.map((_, i) => i + 1), fmt: (v: number) => eTerms[v - 1], size: 21.3, pad: 10, tl: 5, lh: 1.55 });
      a.ticks.color = (c: any) => c.tick && c.tick.value === 6 ? '#e8131b' : '#000'; return a; })(),
  }, { color: '#444', width: 1.2 }),
  plugins: [framePlugin],
});

const makeF = (g: any) => ({
  type: 'bar',
  data: { datasets: [
    { label: 'Trans', data: fTrans.map((x, i) => ({ x, y: i + 1 })), backgroundColor: '#00a497', barThickness: 35 },
    { label: 'Meta', data: fMeta.map((x, i) => ({ x, y: i + 1 })), backgroundColor: '#03459a', barThickness: 35 },
  ] },
  options: { ...base(g, {
    x: axis('x', g, { min: -2.97, max: 65.74, ticks: fXTicks, fmt: minusFmt, size: 24, pad: 0, stacked: true, color: '#4d4d4d', gridColor: 'rgba(0,0,0,0)' }),
    y: (() => { const a: any = axis('y', g, { min: 0.415, max: 16.585, reverse: true, stacked: true, ticks: fTerms.map((_, i) => i + 1), fmt: (v: number) => fTerms[v - 1], size: 24, pad: 14, gridColor: 'rgba(0,0,0,0)' });
      a.ticks.color = (c: any) => c.tick && c.tick.value === 3 ? '#e8131b' : '#000'; return a; })(),
  }, { color: '#333', width: 2 }), indexAxis: 'y' },
  plugins: [framePlugin],
});

/* Panel B: a doughnut whose arcs are placed on concentric tracks */
const B_CX = 374.3, B_CY = 398;
const SECTOR = 12, SPAN = 11.5;
const R = { stripIn: 328, stripOut: 345, axisOut: 347, cellIn: 298, cellOut: 317, upIn: 262, upOut: 282, grayOut: 252, barBase: 117.4, centre: 111 };
const logSpan = (n: number) => n <= 1 ? 0.12 : SPAN * Math.log10(n) / 3;
const rad = (d: number) => (d - 90) * Math.PI / 180;

const circosPlugin = {
  id: 'circos',
  afterDatasetsUpdate(chart: any) {
    chart.data.datasets.forEach((ds: any, i: number) => {
      chart.getDatasetMeta(i).data.forEach((el: any, j: number) => {
        const [a, b, ri, ro] = ds.track(j);
        el.x = B_CX; el.y = B_CY; el.startAngle = rad(a); el.endAngle = rad(b);
        el.circumference = (b - a) * Math.PI / 180; el.innerRadius = ri; el.outerRadius = ro;
      });
    });
  },
  afterDatasetsDraw(chart: any) {
    const ctx = chart.ctx;
    const put = (txt: string, deg: number, r: number, rotDeg: number, font: string, color: string, align: any) => {
      ctx.save();
      ctx.translate(B_CX + r * Math.cos(rad(deg)), B_CY + r * Math.sin(rad(deg)));
      ctx.rotate(rotDeg * Math.PI / 180);
      ctx.font = font; ctx.fillStyle = color; ctx.textAlign = align; ctx.textBaseline = 'middle';
      ctx.fillText(txt, 0, 0); ctx.restore();
    };
    goIds.forEach((id, i) => {
      const s = i * SECTOR;
      put(id, s + SPAN / 2, (R.stripIn + R.stripOut) / 2, s + SPAN / 2, `9px ${FONT}`, 'rgba(30,30,30,0.9)', 'center');
      goAxisLabels.forEach((lab, k) => {
        const d = s + SPAN * k / 3;
        ctx.save(); ctx.strokeStyle = '#000'; ctx.lineWidth = 1.2; ctx.beginPath();
        ctx.moveTo(B_CX + R.axisOut * Math.cos(rad(d)), B_CY + R.axisOut * Math.sin(rad(d)));
        ctx.lineTo(B_CX + (R.axisOut + 5) * Math.cos(rad(d)), B_CY + (R.axisOut + 5) * Math.sin(rad(d)));
        ctx.stroke(); ctx.restore();
        put(lab, d, R.axisOut + 6, d + 90, `9px ${FONT}`, '#333', 'right');
      });
      const cw = logSpan(goCounts[i]);
      put(String(goCounts[i]), s + cw / 2, (R.cellIn + R.cellOut) / 2, s + cw / 2, `9px ${FONT}`, '#222', 'center');
      const uw = logSpan(goUp[i]);
      put(String(goUp[i]), s + uw / 2, (R.upIn + R.upOut) / 2, s + uw / 2, `9px ${FONT}`, '#400', 'center');
    });
  },
};

const groupColor = (i: number) => goGroupColors[Math.floor(i / 10)];
const makeB = () => ({
  type: 'doughnut',
  data: {
    labels: goIds,
    datasets: [
      { data: goIds.map(() => 1), backgroundColor: goIds.map((_, i) => groupColor(i)), borderWidth: 0, track: (i: number) => [i * SECTOR, i * SECTOR + SPAN, R.stripIn, R.stripOut] },
      { data: goIds.map(() => 1), backgroundColor: '#000', borderWidth: 0, track: (i: number) => [i * SECTOR, i * SECTOR + SPAN, R.stripOut, R.axisOut] },
      { data: goCounts, backgroundColor: goLogP.map(v => ramp(PVAL_REDS, v / 20)), borderWidth: 0, track: (i: number) => [i * SECTOR, i * SECTOR + logSpan(goCounts[i]), R.cellIn, R.cellOut] },
      { data: goUp, backgroundColor: '#ff0000', borderWidth: 0, track: (i: number) => [i * SECTOR, i * SECTOR + logSpan(goUp[i]), R.upIn, R.upOut] },
      { data: goBars, backgroundColor: goIds.map((_, i) => groupColor(i)), borderColor: '#fff', borderWidth: 1, track: (i: number) => [i * SECTOR, (i + 1) * SECTOR, R.barBase, R.barBase + goBars[i] * 25] },
      { data: goIds.map(() => 1), backgroundColor: 'rgba(0,0,0,0)', borderColor: '#fff', borderWidth: 2, track: (i: number) => [i * SECTOR, (i + 1) * SECTOR, R.barBase, R.grayOut] },
      { data: goGridRings, backgroundColor: '#e2e2e2', borderWidth: 0, track: (i: number) => [0, 359.99, goGridRings[i] - 0.3, goGridRings[i] + 0.3] },
      { data: [1], backgroundColor: '#f1f1f1', borderWidth: 0, track: () => [0, 359.99, R.centre, R.grayOut] },
    ],
  },
  options: { animation: false, responsive: false, maintainAspectRatio: false, devicePixelRatio: 1, events: [], plugins: { legend: { display: false }, tooltip: { enabled: false } } },
  plugins: [circosPlugin],
});

function PanelB() {
  const ref = useRef<HTMLCanvasElement>(null);
  useEffect(() => { const c = new Chart(ref.current as any, makeB() as any); return () => c.destroy(); }, []);
  return <canvas ref={ref} width={757} height={800} style={{ position: 'absolute', left: 910, top: 0, transformOrigin: '0 0', transform: 'scaleX(1.03)' }} />;
}

const Pv = () => <><i>P</i></>;
const TITLE = 'OA-MTB-0 versus BSA';

export default function App() {
  return (
    <div style={{ position: 'absolute', left: 0, top: 0, width: 3150, height: 1638, overflow: 'hidden', background: '#fff', fontFamily: FONT }}>
      {/* A */}
      <ChartPanel box={{ L: 164, T: 56, R: 783.5, B: 643 }} m={[80, 34, 40, 40]} make={makeA} />
      <T x={65} y={39} size={46}>A</T>
      <T x={76} y={336} size={31} anchor="center" rot={-90}>−log<Sub>10</Sub> (<Pv /> value)</T>
      <T x={455} y={704} size={30.3} anchor="center">log<Sub>2</Sub>(Fold change)</T>
      <T x={454} y={751} size={30.5} anchor="center">{TITLE}</T>

      {/* B */}
      <PanelB />
      <T x={902} y={38} size={46}>B</T>
      <T x={992} y={14} size={19.5}>{TITLE}</T>
      <Rect x={1256} y={309} w={15} h={14.5} color={goGroupColors[0]} />
      <Rect x={1256} y={325.5} w={15} h={14} color={goGroupColors[1]} />
      <Rect x={1256} y={341} w={15} h={14.5} color={goGroupColors[2]} />
      <T x={1276} y={316} size={8.5} color="#333">BP</T>
      <T x={1276} y={333} size={8.5} color="#333">CC</T>
      <T x={1276} y={348} size={8.5} color="#333">MF</T>
      <T x={1257} y={375} size={8.5} color="#333">−log<Sub>10</Sub>(<Pv /> value)</T>
      <ColorBar x={1255} y={388} w={17} h={68.6} stops={PVAL_REDS} labelX={1276} size={8.5}
        ticks={[[392, '20'], [407, '15'], [423, '10'], [438, '5'], [454, '0']]} />
      <Rect x={1256} y={473} w={15} h={14} color="#ff0000" />
      <T x={1276} y={480} size={8.5} color="#333">up−regulated</T>

      {/* C */}
      <ChartPanel box={{ L: 2342, T: 34, R: 2737.6, B: 790.8 }} m={[490, 34, 40, 40]} make={makeC} />
      <T x={1772} y={28} size={46}>C</T>
      <T x={2350.6} y={22} size={24.4}>{TITLE}</T>
      <T x={2780} y={205.6} size={24}>−log<Sub>10</Sub> (<Pv /> value)</T>
      <ColorBar x={2771} y={232} w={36} h={178.7} stops={GREEN_RED} labelX={2818} size={24} ticks={[[273, '9'], [319, '7'], [365, '5']]} />
      <T x={2779} y={475.5} size={24}>Count</T>
      {[[25, 508.7], [50, 544.4], [75, 580], [100, 616]].map(([n, y]) => <React.Fragment key={n}>
        <Dot x={2789} y={y} r={cRadius(n)} />
        <T x={2818} y={y} size={24}>{String(n)}</T>
      </React.Fragment>)}

      {/* D */}
      <ChartPanel box={{ L: 186, T: 811, R: 677.8, B: 1387.4 }} m={[100, 34, 40, 40]} make={makeD} />
      <T x={67} y={833} size={46}>D</T>
      <T x={82} y={1078} size={30.5} anchor="center" rot={-90}>−log<Sub>10</Sub>(<Pv /> value)</T>
      <T x={446} y={1446} size={30} anchor="center">log<Sub>2</Sub> Fold change</T>
      <T x={446} y={1488} size={30.5} anchor="center">{TITLE}</T>
      <T x={716} y={877} size={24}>Status</T>
      {[['Up: 140', 920, '#f39b7f'], ['Down: 160', 954, '#4dbbd5'], ['Not sig: 708', 988, '#bdbdbd']].map(([s, y, c]: any) => <React.Fragment key={s}>
        <Dot x={732.4} y={y} r={5.5} color={c} />
        <T x={752} y={y - 3} size={24}>{s}</T>
      </React.Fragment>)}
      <T x={716} y={1064} size={24}>VIP</T>
      {[['1', 1106, 6], ['2', 1140.6, 8], ['3', 1175, 9.5]].map(([s, y, r]: any) => <React.Fragment key={s}>
        <Dot x={732.4} y={y} r={r} />
        <T x={760} y={y} size={24}>{s}</T>
      </React.Fragment>)}

      {/* E */}
      <ChartPanel box={{ L: 1335, T: 847, R: 1640, B: 1605 }} m={[350, 34, 40, 36]} sx={1.15} make={makeE} />
      <T x={904} y={832} size={46}>E</T>
      <T x={1335} y={830} size={24.4}>{TITLE}</T>
      <T x={1674} y={972.6} size={24.6}>−log<Sub>10</Sub>(<Pv /> value)</T>
      <ColorBar x={1681} y={1010} w={45} h={178.6} stops={GREEN_RED} labelX={1740.6} size={24}
        ticks={[[1011.6, '1.15'], [1047, '1.10'], [1081.7, '1.05'], [1116.4, '1.00'], [1151.7, '0.95'], [1185.9, '0.90']]} />
      <T x={1682} y={1245.8} size={24}>Count</T>
      {[[2, 1287, 5.6], [3, 1322, 9.7], [4, 1358, 11], [5, 1394, 12.3], [6, 1429, 13.4], [7, 1465, 14.4]].map(([n, y, r]) => <React.Fragment key={n}>
        <Dot x={1703} y={y} r={r} rx={r * 1.2} />
        <T x={1740.6} y={y} size={24}>{String(n)}</T>
      </React.Fragment>)}

      {/* F */}
      <ChartPanel box={{ L: 2350.6, T: 873.6, R: 2951.6, B: 1506.4 }} m={[490, 34, 40, 36]} make={makeF} />
      <T x={1937} y={840} size={46}>F</T>
      <T x={2350} y={854} size={24.4}>{TITLE}</T>
      <T x={2656} y={1550} size={24} anchor="center">Count</T>
      <Rect x={2986} y={1185} w={31} h={32} color="#03459a" />
      <Rect x={2986} y={1219} w={31} h={31} color="#00a497" />
      <T x={3023} y={1203} size={24}>Meta</T>
      <T x={3023} y={1237} size={24}>Trans</T>
    </div>
  );
}
